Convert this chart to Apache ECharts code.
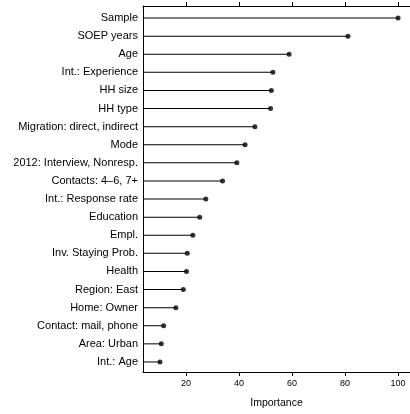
<!DOCTYPE html>
<html><head><meta charset="utf-8">
<script src="https://cdn.jsdelivr.net/npm/echarts@6/dist/echarts.min.js"></script>
<style>html,body{margin:0;padding:0;background:#fff}#c{width:410px;height:414px}</style>
</head><body><div id="c"></div>
<script>
const categories = ["Sample","SOEP years","Age","Int.: Experience","HH size","HH type","Migration: direct, indirect","Mode","2012: Interview, Nonresp.","Contacts: 4\u20136, 7+","Int.: Response rate","Education","Empl.","Inv. Staying Prob.","Health","Region: East","Home: Owner","Contact: mail, phone","Area: Urban","Int.: Age"];
const importance = [100, 81.1, 58.9, 52.8, 52.2, 51.9, 46.0, 42.3, 39.2, 33.8, 27.5, 25.2, 22.6, 20.5, 20.2, 19.0, 16.2, 11.6, 10.7, 10.2];
const tickValues = [20, 40, 60, 80, 100];
const xMin = 3.8, xMax = 104.5;
const font = 'Liberation Sans, Arial, sans-serif';

const chart = echarts.init(document.getElementById('c'));
chart.setOption({
  animation: false,
  grid: [
    {left: 143, right: 0, top: 9, bottom: 43},
    {left: 143, right: 0, top: 6, bottom: 42}
  ],
  xAxis: [
    {gridIndex: 0, type: 'value', min: xMin, max: xMax, show: false},
    {gridIndex: 1, type: 'value', position: 'bottom', min: xMin, max: xMax,
      splitLine: {show: false},
      axisLine: {show: true, lineStyle: {color: '#000', width: 1}},
      axisTick: {show: true, customValues: tickValues, length: 4, lineStyle: {color: '#000'}},
      axisLabel: {customValues: tickValues, color: '#000', fontSize: 9, fontFamily: font, margin: 7},
      name: 'Importance', nameLocation: 'middle', nameGap: 26,
      nameTextStyle: {color: '#000', fontSize: 10.5, fontFamily: font}
    },
    {gridIndex: 1, type: 'value', position: 'top', min: xMin, max: xMax,
      splitLine: {show: false},
      axisLine: {show: true, lineStyle: {color: '#000', width: 1}},
      axisTick: {show: true, customValues: tickValues, length: 4, lineStyle: {color: '#000'}},
      axisLabel: {show: false}
    }
  ],
  yAxis: [
    {gridIndex: 0, type: 'category', data: categories, inverse: true,
      axisLine: {show: false}, axisTick: {show: false}, splitLine: {show: false},
      axisLabel: {color: '#000', fontSize: 11, fontFamily: font, margin: 5}
    },
    {gridIndex: 1, type: 'value', min: 0, max: 1,
      axisLine: {show: true, onZero: false, lineStyle: {color: '#000', width: 1}},
      axisTick: {show: false}, axisLabel: {show: false}, splitLine: {show: false}
    }
  ],
  series: [
    {type: 'bar', xAxisIndex: 0, yAxisIndex: 0, data: importance, barWidth: 1,
      itemStyle: {color: '#000'}, silent: true},
    {type: 'scatter', xAxisIndex: 0, yAxisIndex: 0, data: importance, symbol: 'circle', symbolSize: 5,
      itemStyle: {color: '#000'}, silent: true}
  ]
});
</script></body></html>
